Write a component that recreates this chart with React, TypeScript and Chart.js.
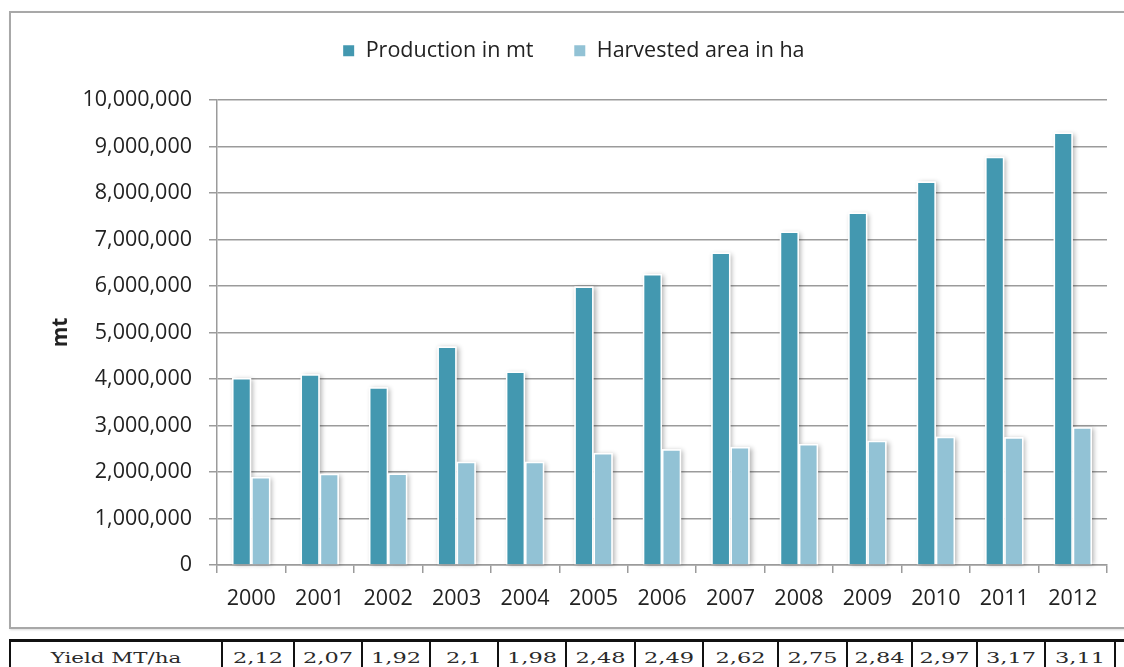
import React, { useEffect, useRef } from "react";
import { Chart, registerables } from "chart.js";

Chart.register(...registerables);

// ---------- data ----------
const years = ["2000", "2001", "2002", "2003", "2004", "2005", "2006", "2007", "2008", "2009", "2010", "2011", "2012"];
const production = [4020000, 4100000, 3820000, 4700000, 4160000, 5990000, 6260000, 6720000, 7170000, 7580000, 8250000, 8780000, 9300000];
const harvested = [1890000, 1960000, 1970000, 2220000, 2220000, 2410000, 2490000, 2540000, 2600000, 2670000, 2760000, 2750000, 2960000];
const seriesNames = ["Production in mt", "Harvested area in ha"];
const yTitle = "mt";
const yMin = 0;
const yMax = 10000000;
const yStep = 1000000;
const yieldLabel = "Yield MT/ha";
const yieldValues = ["2,12", "2,07", "1,92", "2,1", "1,98", "2,48", "2,49", "2,62", "2,75", "2,84", "2,97", "3,17", "3,11"];

// ---------- styles ----------
const FONT = "'Open Sans', 'Noto Sans', sans-serif";
const TEXT = "#222222";
const GRID = "#9b9b9b";
const COLORS = ["#4398b0", "#92c2d5"];
const tableEdges = [10, 222, 294, 362, 430, 498, 566, 635, 703, 778, 847, 912, 977, 1045, 1115];

const shadowPlugin = {
  id: "barShadow",
  beforeDatasetsDraw(chart: any) {
    const ctx = chart.ctx;
    ctx.save();
    ctx.shadowColor = "rgba(0,0,0,0.32)";
    ctx.shadowBlur = 5;
    ctx.shadowOffsetX = 2;
    ctx.shadowOffsetY = 1;
    ctx.fillStyle = "#ffffff";
    chart.data.datasets.forEach((_: any, i: number) => {
      const meta = chart.getDatasetMeta(i);
      meta.data.forEach((el: any) => {
        const { x, y, base, width } = el.getProps(["x", "y", "base", "width"], true);
        ctx.fillRect(x - width / 2, Math.min(y, base), width, Math.abs(base - y));
      });
    });
    ctx.restore();
  },
};

export default function App() {
  const canvasRef = useRef<HTMLCanvasElement | null>(null);

  useEffect(() => {
    if (!canvasRef.current) return;
    const chart = new Chart(canvasRef.current, {
      type: "bar",
      data: {
        labels: years,
        datasets: [
          {
            label: seriesNames[0],
            data: production,
            backgroundColor: COLORS[0],
            borderColor: "#ffffff",
            borderWidth: 1.5,
            categoryPercentage: 0.56,
            barPercentage: 1.0,
          },
          {
            label: seriesNames[1],
            data: harvested,
            backgroundColor: COLORS[1],
            borderColor: "#ffffff",
            borderWidth: 1.5,
            categoryPercentage: 0.56,
            barPercentage: 1.0,
          },
        ],
      },
      options: {
        animation: false,
        responsive: false,
        maintainAspectRatio: false,
        layout: { padding: { left: 40, right: 17, top: 0, bottom: 0 } },
        plugins: {
          legend: {
            position: "top",
            weight: 3000,
            labels: {
              boxWidth: 12.5,
              boxHeight: 12.5,
              padding: 40,
              color: TEXT,
              font: { family: FONT, size: 21.5 },
            },
          } as any,
          title: {
            display: true,
            text: "",
            padding: { top: 0, bottom: 16.5 },
            font: { size: 10, lineHeight: 1.2 },
          },
          tooltip: { enabled: false },
        },
        scales: {
          x: {
            grid: {
              offset: true,
              drawOnChartArea: false,
              drawTicks: true,
              tickLength: 8,
              color: GRID,
              lineWidth: 1.5,
            },
            border: { display: true, color: GRID, width: 1.5 },
            ticks: {
              color: TEXT,
              font: { family: FONT, size: 21.5 },
              padding: 13,
              maxRotation: 0,
              autoSkip: false,
            },
            afterFit: (s: any) => {
              s.height = 63;
            },
          },
          y: {
            min: yMin,
            max: yMax,
            ticks: {
              stepSize: yStep,
              color: TEXT,
              font: { family: FONT, size: 21.5 },
              padding: 17,
              callback: (v: any) => Number(v).toLocaleString("en-US"),
            },
            grid: { color: GRID, lineWidth: 1.5, tickLength: 8, drawTicks: true },
            border: { display: true, color: GRID, width: 1.5 },
            title: {
              display: true,
              text: yTitle,
              color: TEXT,
              font: { family: FONT, size: 21, weight: "bold" },
              padding: { top: 8, bottom: 0 },
            },
            afterFit: (s: any) => {
              s.width = 177;
            },
          },
        },
      },
      plugins: [shadowPlugin],
    });
    return () => chart.destroy();
  }, []);

  return (
    <div
      style={{
        position: "fixed",
        left: 0,
        top: 0,
        width: 1124,
        height: 667,
        overflow: "hidden",
        background: "#ffffff",
      }}
    >
      <div
        style={{
          position: "absolute",
          left: 9,
          top: 11,
          width: 1200,
          height: 618,
          boxSizing: "border-box",
          border: "2px solid #a8a8a8",
          boxShadow: "1px 1px 2px rgba(0,0,0,0.15)",
        }}
      />
      <canvas
        ref={canvasRef}
        width={1124}
        height={628}
        style={{ position: "absolute", left: 0, top: 0, width: 1124, height: 628, display: "block" }}
      />
      {/* yield table */}
      <div
        style={{
          position: "absolute",
          left: 9,
          top: 639,
          width: 1200,
          height: 3,
          background: "#111111",
        }}
      />
      {tableEdges.map((x, i) => (
        <div
          key={"e" + i}
          style={{
            position: "absolute",
            left: x - 1,
            top: 640,
            width: 2,
            height: 40,
            background: "#111111",
          }}
        />
      ))}
      {[yieldLabel, ...yieldValues].map((t, i) => {
        const l = tableEdges[i];
        const r = tableEdges[i + 1];
        return (
          <div
            key={"t" + i}
            style={{
              position: "absolute",
              left: l,
              top: 648,
              width: r - l,
              height: 20,
              lineHeight: "20px",
              textAlign: "center",
              fontFamily: "'DejaVu Serif', serif",
              fontSize: 15.5,
              color: "#2a2a2a",
              whiteSpace: "nowrap",
              transform: `scaleX(${i === 0 ? 1.38 : 1.45})`,
              transformOrigin: "center",
            }}
          >
            {t}
          </div>
        );
      })}
    </div>
  );
}
